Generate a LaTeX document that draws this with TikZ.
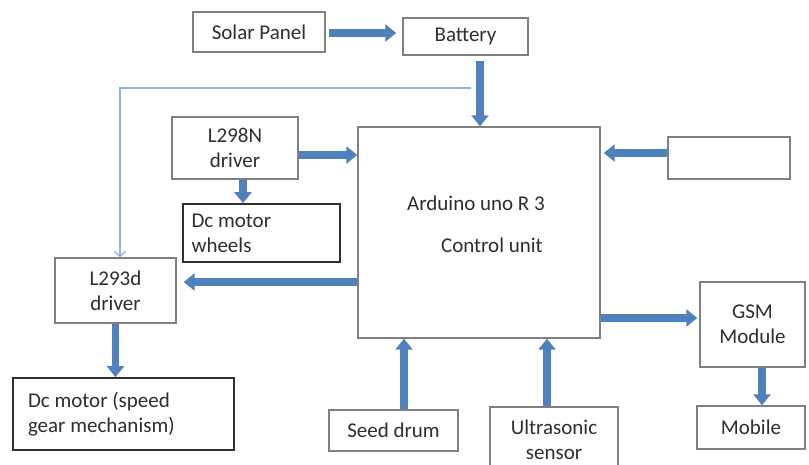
\documentclass[tikz,border=0pt]{standalone}
\usepackage{fontspec}
\setmainfont{Carlito}
\usepackage{xcolor}
\usepackage{tikz}
\usetikzlibrary{arrows.meta}
\definecolor{flowblue}{HTML}{4F81BD}
\definecolor{wireblue}{HTML}{8EB4E3}
\definecolor{boxgray}{HTML}{808080}
\definecolor{boxdark}{HTML}{303030}
\definecolor{txtgray}{HTML}{2E2E2E}

\begin{document}
\begin{tikzpicture}[
  x=1pt, y=-1pt,
  box/.style={rectangle, draw=boxgray, line width=1.4pt, fill=white, align=center,
              text=txtgray, inner sep=2pt, font=\fontsize{21}{25}\selectfont},
  darkbox/.style={box, draw=boxdark, line width=1.7pt, align=flush left},
  lbl/.style={text=txtgray, inner sep=0pt, font=\fontsize{21}{25}\selectfont},
  fat/.style={-{Triangle[width=17pt,length=11pt]}, line width=7.5pt, draw=flowblue},
  wire/.style={-{Straight Barb[length=5pt,width=11pt]}, line width=1.3pt, draw=wireblue},
]
  \useasboundingbox (0,0) rectangle (809,464);

  \node[box, minimum width=132pt, minimum height=40pt] (solar) at (259,32) {Solar Panel};
  \node[box, minimum width=125pt, minimum height=37pt] (batt) at (465.5,36.5) {Battery};
  \node[box, minimum width=126pt, minimum height=62pt] (l298) at (235,148) {L298N\\driver};
  \node[darkbox, text width=140pt, inner xsep=8.5pt, minimum height=58pt] (wheels) at (261.5,233) {Dc motor\\wheels};
  \node[box, minimum width=242pt, minimum height=211pt] (ard) at (479,232.5) {};
  \node[lbl, anchor=east] (ardname) at (545,203) {Arduino uno R 3};
  \node[lbl, anchor=east] (ardunit) at (543,245) {Control unit};
  \node[box, minimum width=122pt, minimum height=42pt] (blank) at (729,158) {};
  \node[box, minimum width=121pt, minimum height=65pt] (l293) at (115.5,290.5) {L293d\\driver};
  \node[darkbox, text width=191pt, inner xsep=15pt, minimum height=72pt] (dcspeed) at (123.5,414) {Dc motor (speed\\gear mechanism)};
  \node[box, minimum width=105pt, minimum height=85pt] (gsm) at (752.5,324.5) {GSM\\Module};
  \node[box, minimum width=108pt, minimum height=43pt] (mobile) at (751,427.5) {Mobile};
  \node[box, minimum width=129pt, minimum height=41pt] (seed) at (393.5,430.5) {Seed drum};
  \node[box, minimum width=128pt, minimum height=80pt, text depth=14pt] (ultra) at (554,447) {Ultrasonic\\sensor};

  \coordinate (tap) at (471,88);

  \draw[fat, shorten <=3pt, shorten >=6pt] ([yshift=-1pt]solar.east) -- ([yshift=-1pt]solar.east -| batt.west);
  \draw[fat, shorten <=5pt] ([xshift=14.5pt]batt.south) -- ([xshift=14.5pt]batt.south |- ard.north);
  \draw[wire] (tap) -| ([xshift=4.5pt]l293.north);
  \draw[fat] ([yshift=-7pt]l298.east) -- ([yshift=-7pt]l298.east -| ard.west);
  \draw[fat] ([xshift=8pt]l298.south) -- ([xshift=8pt]l298.south |- wheels.north);
  \draw[fat, shorten >=7pt] ([yshift=8.5pt]l293.east -| ard.west) -- ([yshift=8.5pt]l293.east);
  \draw[fat] (l293.south) -- (l293.south |- dcspeed.north);
  \draw[fat, shorten >=3pt] ([yshift=5pt]blank.west) -- ([yshift=5pt]blank.west -| ard.east);
  \draw[fat, shorten >=2pt] ([yshift=6.5pt]gsm.west -| ard.east) -- ([yshift=6.5pt]gsm.west);
  \draw[fat] ([xshift=9.5pt]gsm.south) -- ([xshift=9.5pt]gsm.south |- mobile.north);
  \draw[fat] ([xshift=10.5pt]seed.north) -- ([xshift=10.5pt]seed.north |- ard.south);
  \draw[fat] ([xshift=-7pt]ultra.north) -- ([xshift=-7pt]ultra.north |- ard.south);
\end{tikzpicture}
\end{document}
